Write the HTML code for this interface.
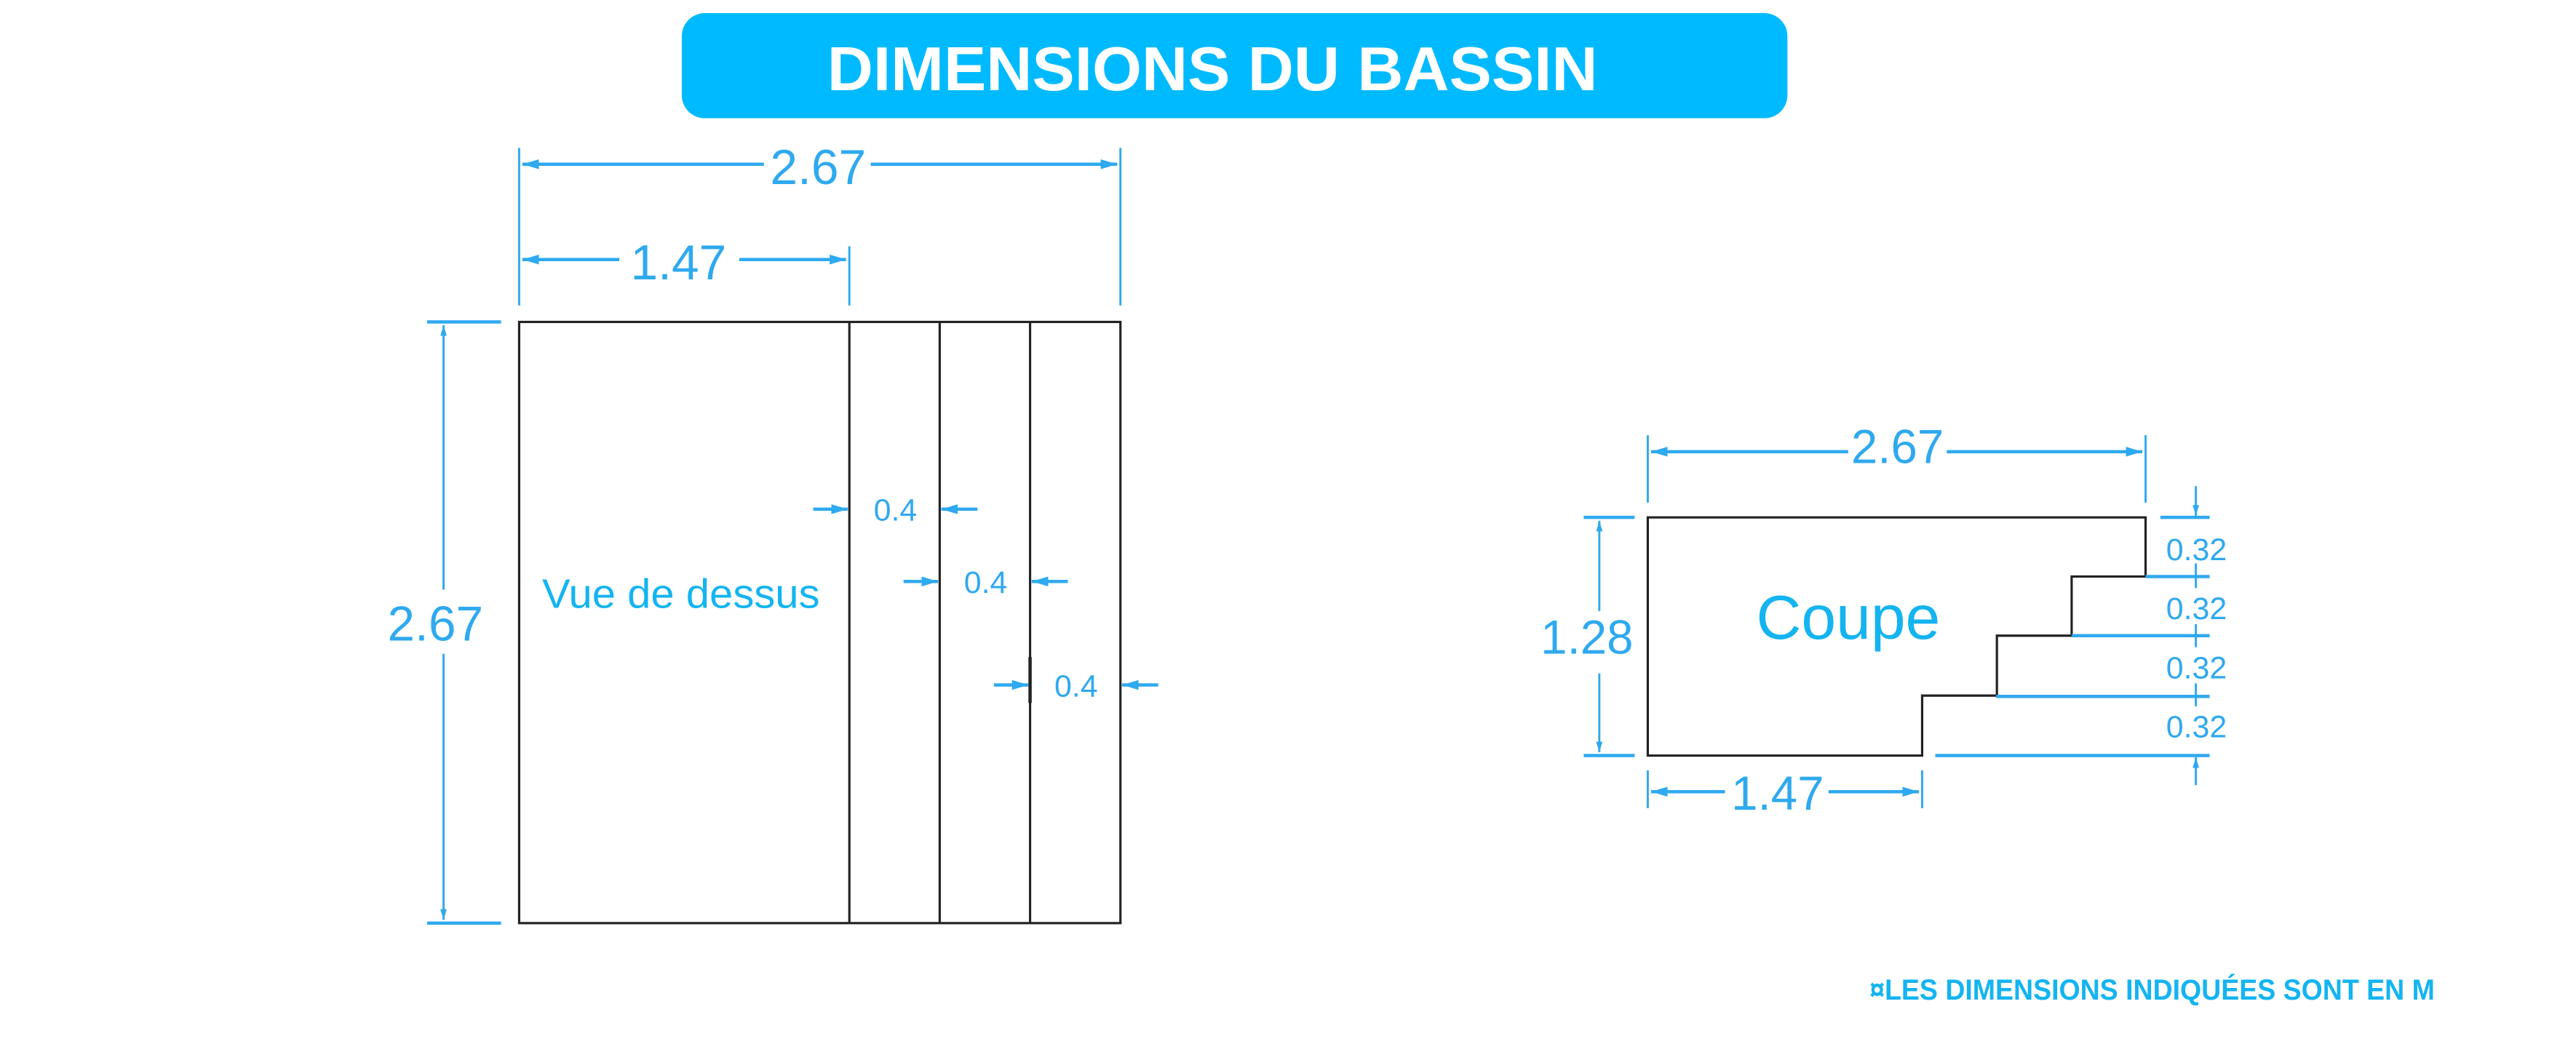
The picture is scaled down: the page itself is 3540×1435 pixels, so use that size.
<!DOCTYPE html>
<html><head><meta charset="utf-8"><style>
html,body{margin:0;padding:0;background:#fff;width:3540px;height:1435px;overflow:hidden}
svg{display:block}
</style></head><body>
<svg width="3540" height="1435" viewBox="0 0 1568 635.6" preserveAspectRatio="none" xmlns="http://www.w3.org/2000/svg">
<defs>
<marker id="a" viewBox="0 0 10 10" refX="10" refY="5" markerWidth="5" markerHeight="5" orient="auto-start-reverse"><path d="M0,2 L10,5 L0,8z" fill="#2fa9ef"/></marker>
</defs>
<rect x="415" y="8" width="673" height="64" rx="14" fill="#00baff"/>
<text x="738" y="55" font-family="Liberation Sans, sans-serif" font-weight="bold" font-size="38" fill="#fff" text-anchor="middle" textLength="469" lengthAdjust="spacingAndGlyphs">DIMENSIONS DU BASSIN</text>

<g fill="none" stroke="#222" stroke-width="1.4">
<rect x="316" y="196" width="366" height="366"/>
<line x1="517" y1="196" x2="517" y2="562"/>
<line x1="572" y1="196" x2="572" y2="562"/>
<line x1="627" y1="196" x2="627" y2="562"/>
<line x1="627" y1="400" x2="627" y2="428" stroke-width="2"/>
<path d="M1003,315 H1306 V351 H1261 V387 H1215.5 V423.5 H1170 V460 H1003 Z"/>
</g>

<g stroke="#2fa9ef" stroke-width="1.3" fill="none">
<!-- top view dims -->
<line x1="316" y1="90" x2="316" y2="186"/><line x1="682" y1="90" x2="682" y2="186"/>
<line x1="517" y1="150" x2="517" y2="186"/>
<line x1="465" y1="100" x2="318" y2="100" stroke-width="2" marker-end="url(#a)"/>
<line x1="530" y1="100" x2="680" y2="100" stroke-width="2" marker-end="url(#a)"/>
<line x1="377" y1="158" x2="318" y2="158" stroke-width="2" marker-end="url(#a)"/>
<line x1="450" y1="158" x2="515" y2="158" stroke-width="2" marker-end="url(#a)"/>
<line x1="260" y1="196" x2="305" y2="196" stroke-width="2"/><line x1="260" y1="562" x2="305" y2="562" stroke-width="2"/>
<line x1="270" y1="359" x2="270" y2="198" marker-end="url(#a)"/>
<line x1="270" y1="398" x2="270" y2="560" marker-end="url(#a)"/>
<line x1="495" y1="310" x2="516" y2="310" stroke-width="2" marker-end="url(#a)"/>
<line x1="595" y1="310" x2="573" y2="310" stroke-width="2" marker-end="url(#a)"/>
<line x1="550" y1="354" x2="571" y2="354" stroke-width="2" marker-end="url(#a)"/>
<line x1="650" y1="354" x2="628" y2="354" stroke-width="2" marker-end="url(#a)"/>
<line x1="605" y1="417" x2="626" y2="417" stroke-width="2" marker-end="url(#a)"/>
<line x1="705" y1="417" x2="683" y2="417" stroke-width="2" marker-end="url(#a)"/>
<!-- coupe dims -->
<line x1="1003" y1="265" x2="1003" y2="306"/><line x1="1306" y1="265" x2="1306" y2="306"/>
<line x1="1125" y1="275" x2="1005" y2="275" stroke-width="2" marker-end="url(#a)"/>
<line x1="1185" y1="275" x2="1304" y2="275" stroke-width="2" marker-end="url(#a)"/>
<line x1="964" y1="315" x2="995" y2="315" stroke-width="2"/><line x1="964" y1="460" x2="995" y2="460" stroke-width="2"/>
<line x1="973.5" y1="372" x2="973.5" y2="317" marker-end="url(#a)"/>
<line x1="973.5" y1="410" x2="973.5" y2="458" marker-end="url(#a)"/>
<line x1="1003" y1="469" x2="1003" y2="492"/><line x1="1170" y1="469" x2="1170" y2="492"/>
<line x1="1050" y1="482" x2="1005" y2="482" stroke-width="2" marker-end="url(#a)"/>
<line x1="1113" y1="482" x2="1168" y2="482" stroke-width="2" marker-end="url(#a)"/>
<line x1="1315" y1="315" x2="1345" y2="315" stroke-width="2"/>
<line x1="1306" y1="351" x2="1345" y2="351" stroke-width="2"/>
<line x1="1261" y1="387" x2="1345" y2="387" stroke-width="2"/>
<line x1="1215" y1="424" x2="1345" y2="424" stroke-width="2"/>
<line x1="1178" y1="460" x2="1345" y2="460" stroke-width="2"/>
<line x1="1336.6" y1="296" x2="1336.6" y2="314" marker-end="url(#a)"/>
<line x1="1336.6" y1="343" x2="1336.6" y2="358"/>
<line x1="1336.6" y1="380" x2="1336.6" y2="394"/>
<line x1="1336.6" y1="416" x2="1336.6" y2="430"/>
<line x1="1336.6" y1="478" x2="1336.6" y2="461" marker-end="url(#a)"/>
</g>

<g font-family="Liberation Sans, sans-serif" fill="#2fa9ef" text-anchor="middle">
<text x="498" y="112" font-size="30">2.67</text>
<text x="413" y="170" font-size="30">1.47</text>
<text x="265" y="390" font-size="30">2.67</text>
<text x="545" y="317" font-size="19">0.4</text>
<text x="600" y="361" font-size="19">0.4</text>
<text x="655" y="424" font-size="19">0.4</text>
<text x="1155" y="282" font-size="29">2.67</text>
<text x="966" y="398" font-size="29">1.28</text>
<text x="1082" y="493" font-size="29">1.47</text>
<text x="1337" y="341" font-size="19">0.32</text>
<text x="1337" y="377" font-size="19">0.32</text>
<text x="1337" y="413" font-size="19">0.32</text>
<text x="1337" y="449" font-size="19">0.32</text>
</g>
<g font-family="Liberation Sans, sans-serif" fill="#14b4f0">
<text x="330" y="370" font-size="25" textLength="169" lengthAdjust="spacingAndGlyphs">Vue de dessus</text>
<text x="1125" y="389" font-size="38" text-anchor="middle">Coupe</text>
<text x="1138" y="608.5" font-size="17.5" font-weight="bold" textLength="344" lengthAdjust="spacingAndGlyphs">¤LES DIMENSIONS INDIQUÉES SONT EN M</text>
</g>
</svg>
</body></html>
